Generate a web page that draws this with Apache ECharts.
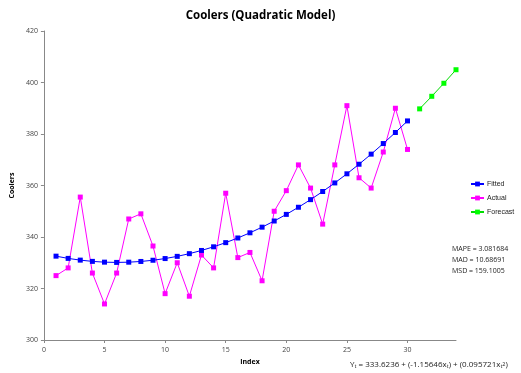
<!DOCTYPE html>
<html><head><meta charset="utf-8">
<script src="https://cdn.jsdelivr.net/npm/echarts@6/dist/echarts.min.js"></script>
<style>html,body{margin:0;padding:0;background:#fff}#c{width:521px;height:373px}</style>
</head><body><div id="c"></div>
<script>
const indexActual = [1,2,3,4,5,6,7,8,9,10,11,12,13,14,15,16,17,18,19,20,21,22,23,24,25,26,27,28,29,30];
const actual = [325,328,355.5,326,314,326,347,349,336.5,318,330,317,333,328,357,332,334,323,350,358,368,359,345,368,391,363,359,373,390,374];
const fitted = [332.56,331.69,331.02,330.53,330.23,330.13,330.22,330.50,330.97,331.63,332.48,333.53,334.77,336.19,337.81,339.62,341.63,343.82,346.21,348.78,351.55,354.51,357.66,361.00,364.54,368.26,372.18,376.29,380.59,385.08];
const indexForecast = [31,32,33,34];
const forecast = [389.76,394.64,399.70,404.96];
const statsLines = ['MAPE = 3.081684','MAD = 10.68691','MSD = 159.1005'];

const font = '"Open Sans", "Liberation Sans", sans-serif';
const chart = echarts.init(document.getElementById('c'), null, {renderer:'canvas'});
const pair = (xs, ys) => xs.map((x,i)=>[x, ys[i]]);
chart.setOption({
  animation:false,
  backgroundColor:'#fff',
  title:{text:'Coolers (Quadratic Model)', left:'center', top:5,
    textStyle:{fontFamily:font, fontSize:11.5, fontWeight:'bold', color:'#000'}},
  grid:{left:43, right:65, top:31, bottom:33},
  legend:{orient:'vertical', left:470, top:180, itemWidth:13, itemHeight:6, itemGap:6, padding:0,
    textStyle:{fontFamily:'"Liberation Sans", sans-serif', fontSize:7, color:'#222', padding:[0,0,0,-2], lineHeight:8},
    data:['Fitted','Actual','Forecast']},
  xAxis:{type:'value', min:0, max:34, interval:5, name:'Index', nameLocation:'middle', nameGap:18,
    nameTextStyle:{fontFamily:font, fontSize:7, fontWeight:'bold', color:'#000'},
    axisLine:{lineStyle:{color:'#888'}}, axisTick:{show:true, length:3, lineStyle:{color:'#888'}},
    axisLabel:{fontFamily:font, fontSize:7, color:'#444', margin:6, showMaxLabel:false},
    splitLine:{show:false}},
  yAxis:{type:'value', min:300, max:420, interval:20, name:'Coolers', nameLocation:'middle', nameGap:22,
    nameTextStyle:{fontFamily:font, fontSize:7, fontWeight:'bold', color:'#000'},
    axisLine:{show:true, lineStyle:{color:'#888'}}, axisTick:{show:true, length:3, lineStyle:{color:'#888'}},
    axisLabel:{fontFamily:font, fontSize:7, color:'#444', margin:6},
    splitLine:{show:false}},
  graphic:[
    {type:'text', left:452, top:243, style:{text:statsLines.join('\n'), fontFamily:font, fontSize:7, fill:'#222', lineHeight:11}},
    {type:'text', left:350, top:361, style:{rich:{a:{fontFamily:font,fontSize:8,fill:'#222'},s:{fontFamily:font,fontSize:5.5,fill:'#222',verticalAlign:'bottom'},u:{fontFamily:font,fontSize:5.5,fill:'#222',verticalAlign:'top'}},
      text:'{a|Y}{s|t}{a| = 333.6236 + (-1.15646x}{s|t}{a|) + (0.095721x}{s|t}{u|2}{a|)}'}}
  ],
  series:[
    {name:'Actual', type:'line', data:pair(indexActual, actual), symbol:'rect', symbolSize:5,
      itemStyle:{color:'#ff00ff'}, lineStyle:{color:'#ff00ff', width:1}, z:2},
    {name:'Fitted', type:'line', data:pair(indexActual, fitted), symbol:'rect', symbolSize:5,
      itemStyle:{color:'#0000ff'}, lineStyle:{color:'#0000ff', width:1}, z:3},
    {name:'Forecast', type:'line', data:pair(indexForecast, forecast), symbol:'rect', symbolSize:5,
      itemStyle:{color:'#00ff00'}, lineStyle:{color:'#00dd00', width:1}, z:3}
  ]
});
</script></body></html>
